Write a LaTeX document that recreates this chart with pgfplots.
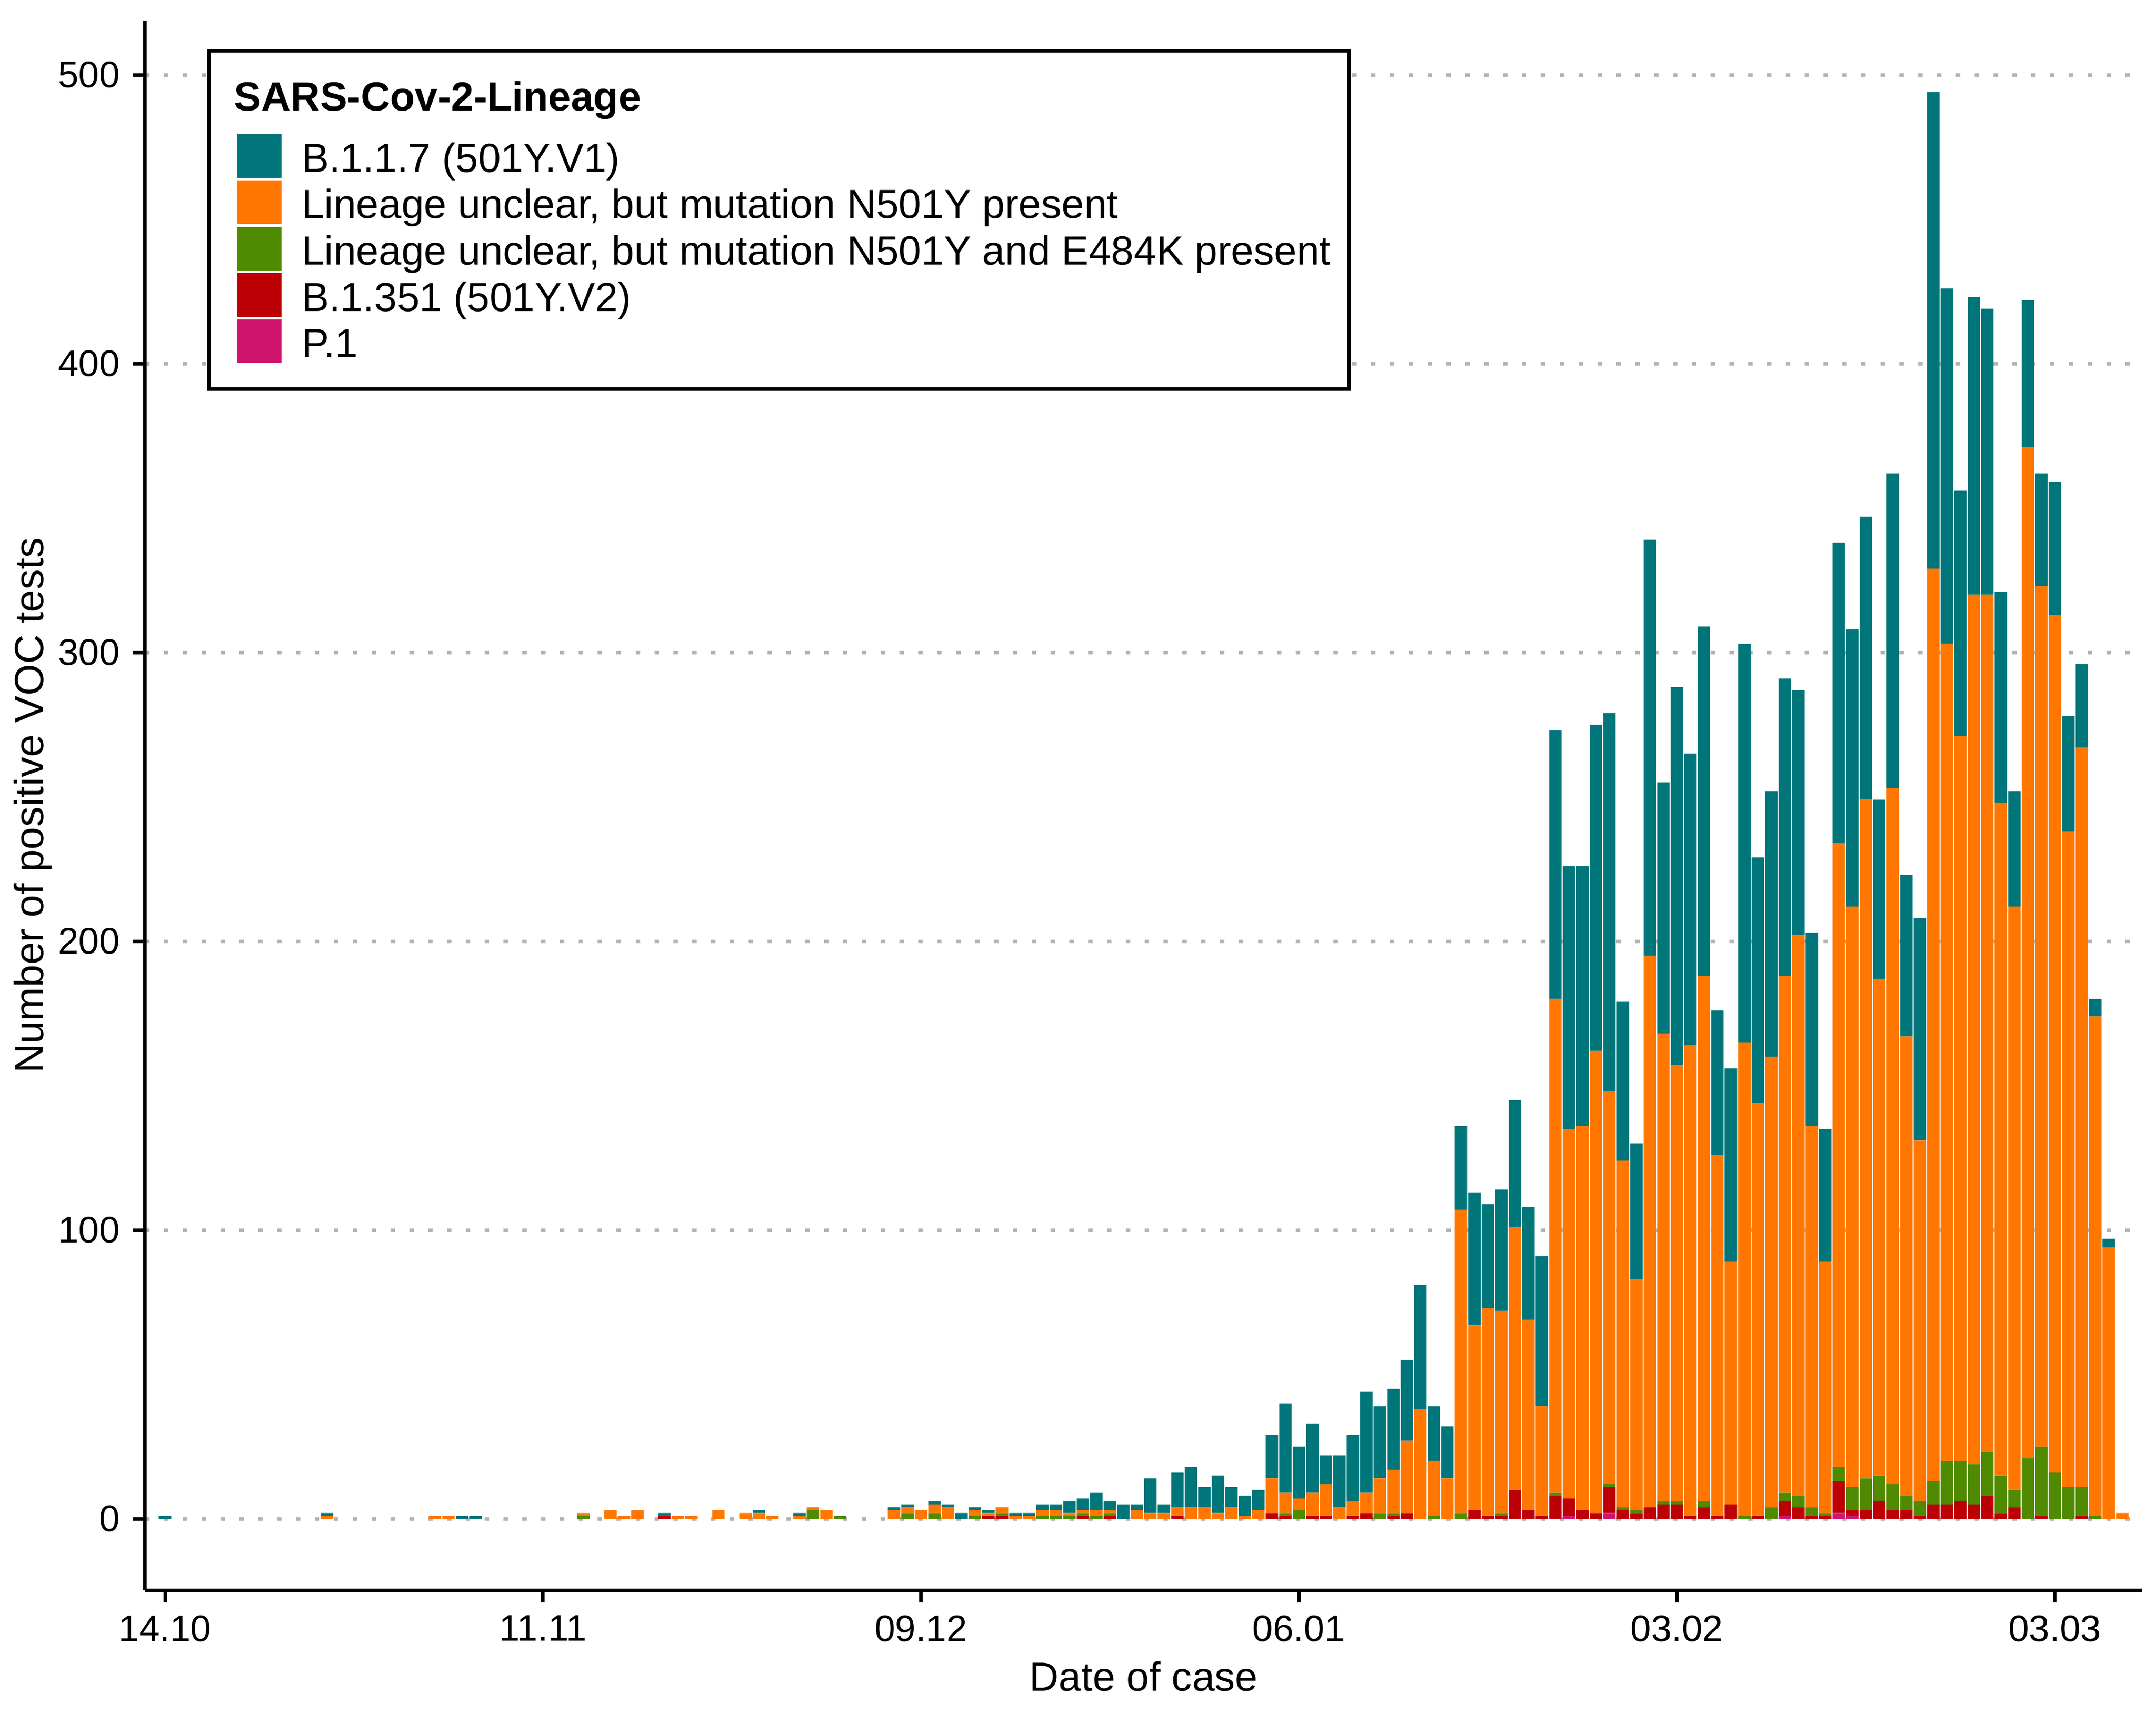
\documentclass[border=0pt]{standalone}
\usepackage{pgfplots}
\pgfplotsset{compat=1.18}
\usepackage{pgfplotstable}
\usepackage{fontspec}
\setmainfont{Liberation Sans}
\definecolor{tealc}{RGB}{0,117,122}
\definecolor{orangec}{RGB}{255,119,0}
\definecolor{greenc}{RGB}{79,138,0}
\definecolor{redc}{RGB}{188,0,5}
\definecolor{pinkc}{RGB}{207,20,110}
\definecolor{gridgray}{RGB}{178,178,178}
\pgfplotsset{sqleg/.style={legend image code/.code={\fill[#1] (0pt,-5.45pt) rectangle (11.1pt,5.45pt);}}}
% day, P.1, B.1.351, N501Y+E484K, N501Y, B.1.1.7
\pgfplotstableread{
day P R G O T
0 0 0 0 0 1
1 0 0 0 0 0
2 0 0 0 0 0
3 0 0 0 0 0
4 0 0 0 0 0
5 0 0 0 0 0
6 0 0 0 0 0
7 0 0 0 0 0
8 0 0 0 0 0
9 0 0 0 0 0
10 0 0 0 0 0
11 0 0 0 0 0
12 0 0 0 1 1
13 0 0 0 0 0
14 0 0 0 0 0
15 0 0 0 0 0
16 0 0 0 0 0
17 0 0 0 0 0
18 0 0 0 0 0
19 0 0 0 0 0
20 0 0 0 1 0
21 0 0 0 1 0
22 0 0 0 0 1
23 0 0 0 0 1
24 0 0 0 0 0
25 0 0 0 0 0
26 0 0 0 0 0
27 0 0 0 0 0
28 0 0 0 0 0
29 0 0 0 0 0
30 0 0 0 0 0
31 0 0 1 1 0
32 0 0 0 0 0
33 0 0 0 3 0
34 0 0 0 1 0
35 0 0 0 3 0
36 0 0 0 0 0
37 0 1 0 0 1
38 0 0 0 1 0
39 0 0 0 1 0
40 0 0 0 0 0
41 0 0 0 3 0
42 0 0 0 0 0
43 0 0 0 2 0
44 0 0 0 2 1
45 0 0 0 1 0
46 0 0 0 0 0
47 0 0 0 1 1
48 0 0 3 1 0
49 0 0 0 3 0
50 0 0 1 0 0
51 0 0 0 0 0
52 0 0 0 0 0
53 0 0 0 0 0
54 0 0 0 3 1
55 0 0 2 2 1
56 0 0 0 3 0
57 0 0 2 3 1
58 0 0 0 4 1
59 0 0 0 0 2
60 0 0 1 2 1
61 0 1 0 1 1
62 0 1 1 2 0
63 0 0 0 1 1
64 0 0 0 1 1
65 0 0 1 2 2
66 0 0 1 2 2
67 0 0 1 1 4
68 0 1 1 1 4
69 0 0 1 2 6
70 0 1 1 1 3
71 0 0 0 0 5
72 0 0 0 3 2
73 0 0 0 2 12
74 0 0 0 2 3
75 0 1 0 3 12
76 0 0 0 4 14
77 0 0 0 4 7
78 0 0 0 2 13
79 0 0 0 4 7
80 0 0 0 1 7
81 0 0 0 3 7
82 0 2 0 12 15
83 0 1 1 7 31
84 0 0 3 4 18
85 0 1 0 8 24
86 0 1 0 11 10
87 0 0 0 4 18
88 0 1 0 5 23
89 0 2 0 7 35
90 0 0 2 12 25
91 0 1 1 15 28
92 0 2 0 25 28
93 0 0 0 38 43
94 0 0 1 19 19
95 0 0 0 14 18
96 0 0 2 105 29
97 0 3 0 64 46
98 0 1 0 72 36
99 0 1 1 70 42
100 0 10 0 91 44
101 0 3 0 66 39
102 0 1 0 38 52
103 0 8 1 171 93
104 1 6 0 128 91
105 0 3 0 133 90
106 0 2 0 160 113
107 2 9 1 136 131
108 0 3 1 120 55
109 0 2 1 80 47
110 0 4 0 191 144
111 0 5 1 162 87
112 0 5 1 151 131
113 0 1 0 163 101
114 0 4 2 182 121
115 0 1 0 125 50
116 0 5 0 84 67
117 0 0 1 164 138
118 0 1 0 143 85
119 0 0 4 156 92
120 1 5 3 179 103
121 0 4 4 194 85
122 0 1 3 132 67
123 0 1 1 87 46
124 2 11 5 216 104
125 1 2 8 201 96
126 0 3 11 235 98
127 0 6 9 172 62
128 0 3 9 241 109
129 0 3 5 159 56
130 0 1 5 125 77
131 0 5 8 316 165
132 0 5 15 283 123
133 0 6 14 251 85
134 0 5 14 301 103
135 0 8 15 297 99
136 0 2 13 233 73
137 0 4 6 202 40
138 0 0 21 350 51
139 0 1 24 298 39
140 0 0 16 297 46
141 0 0 11 227 40
142 0 1 10 256 29
143 0 0 1 173 6
144 0 0 0 94 3
145 0 0 0 2 0
}\voc
\begin{document}
\begin{tikzpicture}
\useasboundingbox (0,0) rectangle (583.03pt,463.24pt);
\begin{axis}[
  at={(39.26pt,33.10pt)}, anchor=south west,
  scale only axis, width=540.02pt, height=424.51pt,
  xmin=-1.47, xmax=146.47, ymin=-24.7, ymax=518.7,
  ybar stacked, bar width=0.92,
  axis x line=bottom, axis y line=left,
  axis line style={-, line width=0.94pt, black},
  xtick={0,28,56,84,112,140},
  xticklabels={14.10,11.11,09.12,06.01,03.02,03.03},
  ytick={0,100,200,300,400,500},
  minor tick num=0,
  tick align=outside, major tick length=3.35pt,
  tick style={black, line width=0.94pt},
  ymajorgrids,
  major grid style={gridgray, line width=0.94pt, dash pattern=on 1.2pt off 3.9pt},
  ticklabel style={font=\fontsize{10}{12}\selectfont, text=black},
  /pgf/number format/assume math mode=true,
  xlabel={Date of case},
  ylabel={Number of positive VOC tests},
  label style={font=\fontsize{11}{13}\selectfont},
  xlabel style={at={(axis description cs:0.5,-0.0643)}, anchor=base},
  ylabel style={at={(axis description cs:-0.0511,0.5)}, anchor=base},
  legend cell align=left,
  legend style={
    at={(axis description cs:0.0310,0.9820)}, anchor=north west,
    draw=black, line width=0.94pt, fill=white,
    inner xsep=7.64pt, inner ysep=7.05pt,
    font=\fontsize{11}{13}\selectfont,
    row sep=0.7pt, column sep=5.5pt,
    nodes={inner sep=0pt, text height=10pt, text depth=1.26pt},
  },
]
\addplot[fill=pinkc, draw=none, forget plot] table[x=day, y=P] {\voc};
\addplot[fill=redc, draw=none, forget plot] table[x=day, y=R] {\voc};
\addplot[fill=greenc, draw=none, forget plot] table[x=day, y=G] {\voc};
\addplot[fill=orangec, draw=none, forget plot] table[x=day, y=O] {\voc};
\addplot[fill=tealc, draw=none, forget plot] table[x=day, y=T] {\voc};
\addlegendimage{empty legend}
\addlegendentry[text height=9.15pt, text depth=5.6pt]{\hspace*{-18.3pt}\textbf{SARS-Cov-2-Lineage}}
\addlegendimage{sqleg=tealc}
\addlegendentry{B.1.1.7 (501Y.V1)}
\addlegendimage{sqleg=orangec}
\addlegendentry{Lineage unclear, but mutation N501Y present}
\addlegendimage{sqleg=greenc}
\addlegendentry{Lineage unclear, but mutation N501Y and E484K present\hspace*{-2.68pt}}
\addlegendimage{sqleg=redc}
\addlegendentry{B.1.351 (501Y.V2)}
\addlegendimage{sqleg=pinkc}
\addlegendentry{P.1}
\end{axis}
\end{tikzpicture}
\end{document}
